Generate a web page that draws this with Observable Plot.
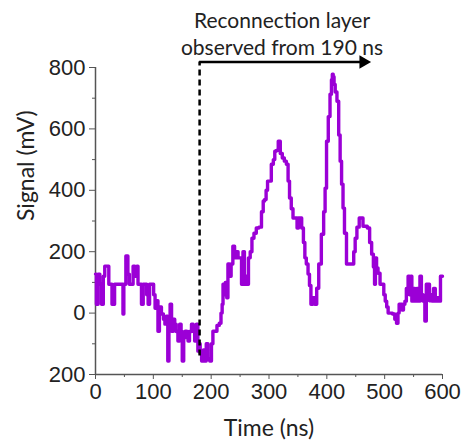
<!DOCTYPE html>
<html>
<head>
<meta charset="utf-8">
<script src="https://cdn.jsdelivr.net/npm/d3@7"></script>
<script src="https://cdn.jsdelivr.net/npm/@observablehq/plot@0.6"></script>
<style>
  html, body { margin: 0; padding: 0; background: #fff; }
  #chart svg { display: block; }
</style>
</head>
<body>
<div id="chart"></div>
<script>
// Time (ns) and signal (mV)
const time = [0,3,6,9,12,15,17,22,24,26,31,35,40,47,48,50,55,57,60,64,66,70,73,74,78,81,84,87,90,92,95,99,102,104,107,109,112,116,119,121,124,126,128,130,133,136,138,141,144,147,149,151,154,156,159,161,164,168,170,173,176,178,180,182,185,188,190,193,196,199,202,204,208,212,216,218,220,221,223,226,228,230,233,236,239,242,245,248,251,254,256,259,261,263,266,269,272,276,280,285,289,291,294,296,299,302,306,309,311,314,318,321,325,328,332,334,337,340,343,347,350,352,355,358,361,363,366,369,371,374,377,381,384,388,393,396,398,401,404,407,409,410,412,413,416,419,422,424,427,429,432,436,440,445,448,450,454,458,461,464,468,472,476,479,482,483,485,487,490,494,497,500,502,505,507,511,516,519,522,524,526,529,531,534,536,539,542,544,546,548,551,554,557,560,562,565,568,571,573,576,579,581,583,586,589,592,595,598,600];
const signal = [127,29,127,94,29,120,153,153,94,94,29,94,94,94,-3,94,186,127,94,94,153,120,153,94,94,29,94,94,60,29,94,94,60,16,40,-59,20,-3,-20,-36,-10,-156,-40,29,-59,-20,-36,-60,-91,-36,-60,-156,-80,-59,-60,-91,-60,-36,-60,-91,-36,-124,-100,-130,-156,-120,-156,-100,-150,-156,-100,-59,-59,-40,-33,0,29,94,60,100,50,160,120,160,218,180,200,180,180,94,200,94,120,94,180,200,244,260,277,280,330,365,370,400,430,430,485,500,527,530,560,520,505,495,485,430,375,340,310,310,277,310,310,277,230,180,160,127,90,29,50,29,81,160,257,330,407,560,640,713,760,778,770,745,720,690,580,495,420,342,260,160,160,160,200,244,280,310,310,283,283,277,230,192,150,94,180,147,130,94,94,60,39,20,0,0,-3,-20,-33,0,29,29,10,29,39,80,120,60,120,39,80,39,80,39,120,60,39,-26,94,94,40,60,39,80,39,50,39,120,120];

const yMajor = [-200, 0, 200, 400, 600, 800];
const yMinor = [-100, 100, 300, 500, 700];
const xMajor = [0, 100, 200, 300, 400, 500, 600];
const xMinor = [50, 150, 250, 350, 450, 550];

const startTime = 180;      // dashed marker position
const arrowEnd = 470;       // arrow tip (ns)
const arrowLevel = 818;     // arrow height (mV)
const dashBottom = -140;
const noteLines = ["Reconnection layer", "observed from 190 ns"];

const data = time.map((t, i) => ({t, s: signal[i]}));

const tickFont = "'Liberation Sans', Arial, sans-serif";
const labelFont = "Lato, 'Open Sans', sans-serif";

const chart = Plot.plot({
  width: 465,
  height: 446,
  marginLeft: 95,
  marginRight: 23,
  marginTop: 67,
  marginBottom: 72,
  style: {background: "#fff", overflow: "visible", fontFamily: tickFont},
  x: {domain: [0, 600]},
  y: {domain: [-200, 800]},
  marks: [
    Plot.axisY(yMajor, {tickSize: 6, tickPadding: 4, fontSize: 22, fontFamily: tickFont, fill: "#222", stroke: "#555",
      tickFormat: d => String(Math.abs(d)), label: null}),
    Plot.axisY(yMinor, {tickSize: 3, text: null, stroke: "#555", label: null}),
    Plot.axisX(xMajor, {tickSize: 5, tickPadding: 4, fontSize: 22, fontFamily: tickFont, fill: "#222", stroke: "#555", label: null}),
    Plot.axisX(xMinor, {tickSize: 3, text: null, stroke: "#555", label: null}),
    Plot.ruleX([0], {stroke: "#555", strokeWidth: 1.5}),
    Plot.ruleY([-200], {stroke: "#555", strokeWidth: 1.5}),
    Plot.line(data, {x: "t", y: "s", stroke: "#9b00d6", strokeWidth: 3.4, curve: "step"}),
    Plot.ruleX([startTime], {y1: dashBottom, y2: arrowLevel, stroke: "#000", strokeWidth: 2.5, strokeDasharray: "6,4"}),
    Plot.ruleY([arrowLevel], {x1: startTime, x2: arrowEnd - 5, stroke: "#000", strokeWidth: 2.5}),
    Plot.dot([{x: arrowEnd, y: arrowLevel}], {x: "x", y: "y", symbol: "triangle", rotate: 90, r: 5, fill: "#000", stroke: null, dx: -4}),
    Plot.text([noteLines.join("\n")], {frameAnchor: "top", dx: 13, dy: -59, text: d => d, fontSize: 21, fontFamily: labelFont, fill: "#222", lineHeight: 1.29, textAnchor: "middle", lineAnchor: "top"}),
    Plot.text(["Signal (mV)"], {frameAnchor: "left", dx: -69, dy: 0, rotate: -90, text: d => d, fontSize: 23, fontFamily: labelFont, fill: "#222", letterSpacing: 0.5}),
    Plot.text(["Time (ns)"], {frameAnchor: "bottom", dy: 61, text: d => d, fontSize: 23, fontFamily: labelFont, fill: "#222", letterSpacing: 0.5})
  ]
});
document.getElementById("chart").append(chart);
</script>
</body>
</html>
